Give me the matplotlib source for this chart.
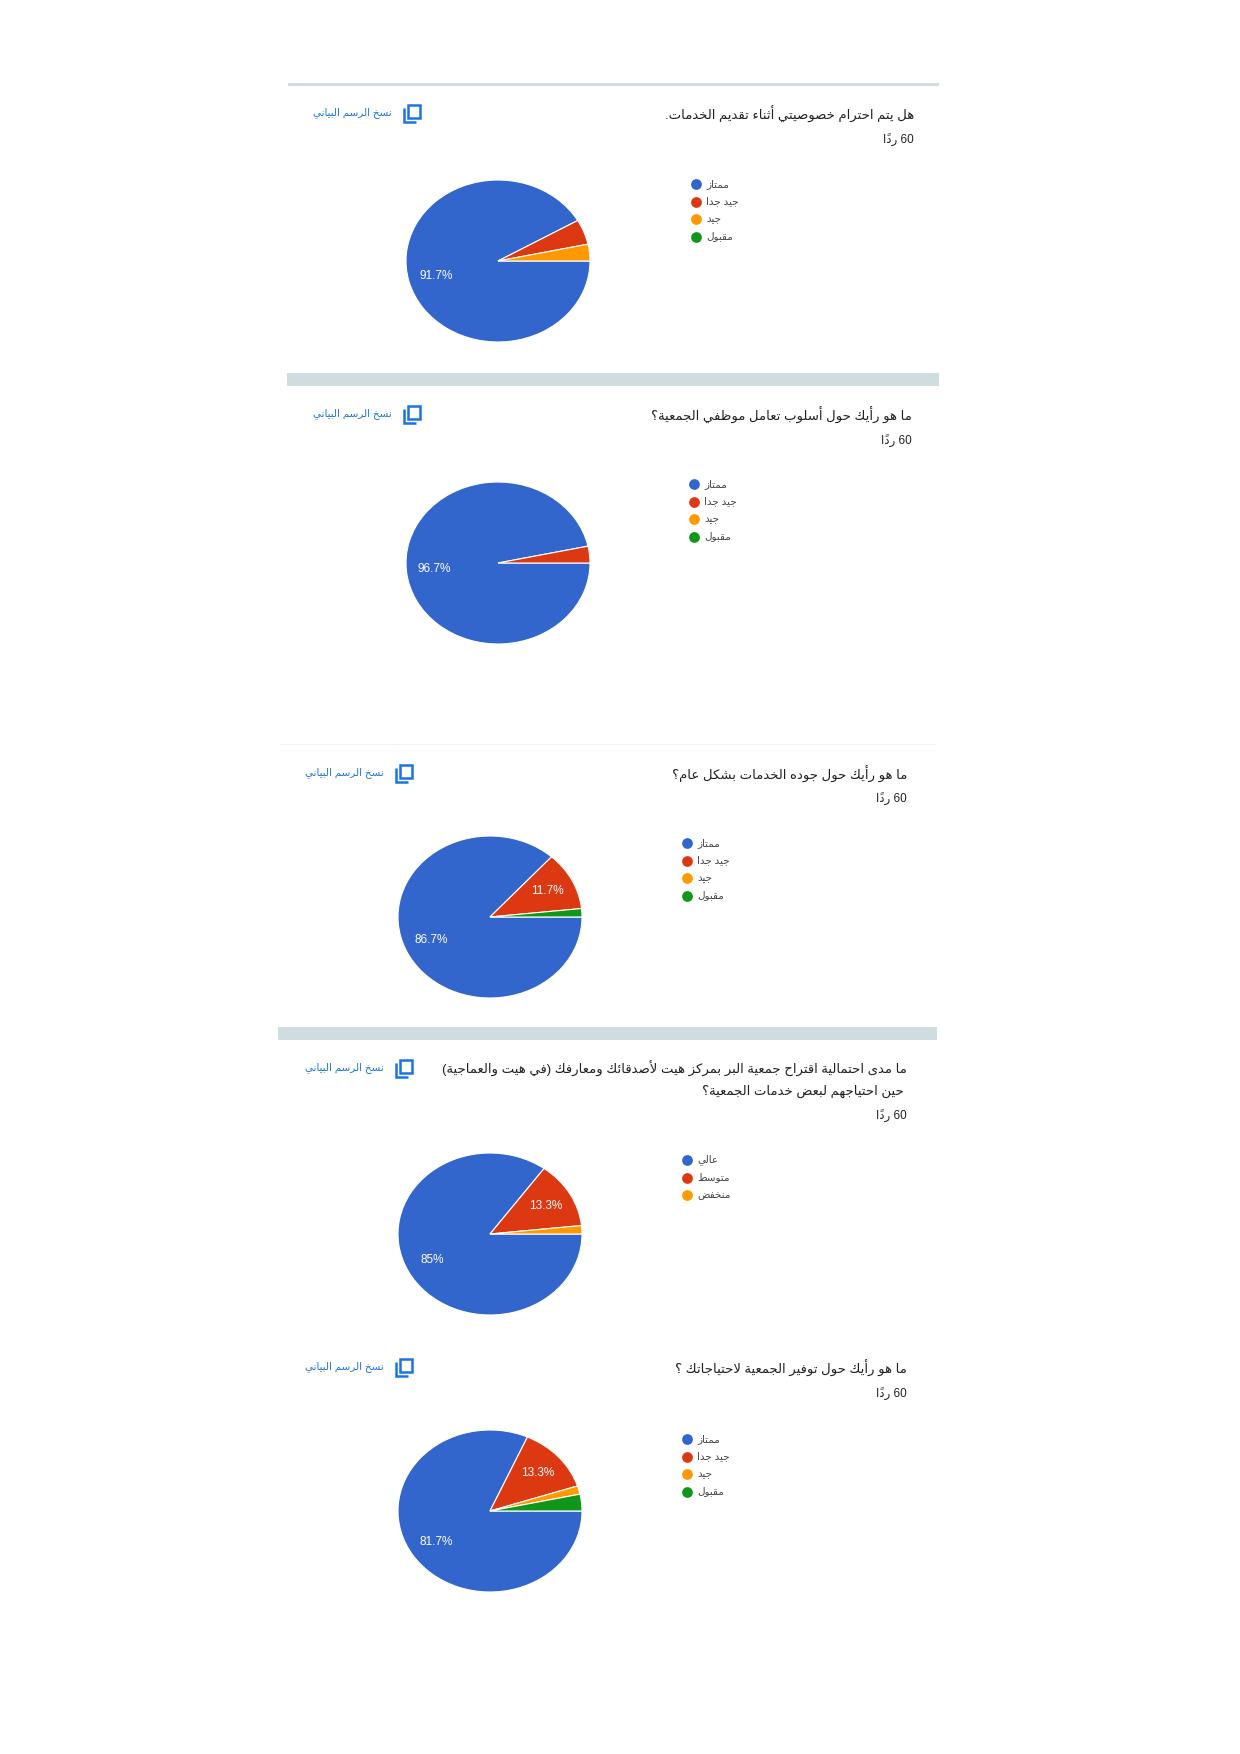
import re
import matplotlib
matplotlib.use("Agg")
import matplotlib.pyplot as plt
from matplotlib.patches import Rectangle

plt.rcParams["font.family"] = ["Liberation Sans", "DejaVu Sans"]

W, H = 1240, 1754

# ---- data -------------------------------------------------------------
questions = [
    ["هل يتم احترام خصوصيتي أثناء تقديم الخدمات."],
    ["ما هو رأيك حول أسلوب تعامل موظفي الجمعية؟"],
    ["ما هو رأيك حول جوده الخدمات بشكل عام؟"],
    ["ما مدى احتمالية اقتراح جمعية البر بمركز هيت لأصدقائك ومعارفك (في هيت والعماجية)",
     " حين احتياجهم لبعض خدمات الجمعية؟"],
    ["ما هو رأيك حول توفير الجمعية لاحتياجاتك ؟"],
]
n_responses = [60, 60, 60, 60, 60]

rating_labels = ["ممتاز", "جيد جدا", "جيد", "مقبول"]
likelihood_labels = ["عالي", "متوسط", "منخفض"]

privacy_counts = [55, 3, 2, 0]
staff_counts = [58, 2, 0, 0]
quality_counts = [52, 7, 0, 1]
recommend_counts = [51, 8, 1]
needs_counts = [49, 8, 1, 2]

slice_colors = ["#3366cc", "#dc3912", "#ff9900", "#109618"]

copy_label = "نسخ الرسم البياني"
count_word = "ردًا"

charts = [
    (privacy_counts, rating_labels),
    (staff_counts, rating_labels),
    (quality_counts, rating_labels),
    (recommend_counts, likelihood_labels),
    (needs_counts, rating_labels),
]

# ---- layout (pixels, y from top) ---------------------------------------
layout = [
    dict(right=914, title_y=114, count_y=140, icon_x=411, cx=498, cy=261, leg_x=696, leg_y=184),
    dict(right=912, title_y=415, count_y=441, icon_x=411, cx=498, cy=563, leg_x=694, leg_y=484),
    dict(right=907, title_y=774, count_y=799, icon_x=403, cx=490, cy=917, leg_x=687, leg_y=843),
    dict(right=907, title_y=1069, count_y=1116, icon_x=403, cx=490, cy=1234, leg_x=687, leg_y=1160),
    dict(right=907, title_y=1368, count_y=1394, icon_x=403, cx=490, cy=1511, leg_x=687, leg_y=1439),
]
RX, RY = 92, 81
LEG_STEP = 17.5


# ---- minimal arabic shaping / visual ordering ---------------------------
_TABLE = [
    ("\u0621", 0xFE80, 1), ("\u0622", 0xFE81, 2), ("\u0623", 0xFE83, 2), ("\u0624", 0xFE85, 2),
    ("\u0625", 0xFE87, 2), ("\u0626", 0xFE89, 4), ("\u0627", 0xFE8D, 2), ("\u0628", 0xFE8F, 4),
    ("\u0629", 0xFE93, 2), ("\u062A", 0xFE95, 4), ("\u062B", 0xFE99, 4), ("\u062C", 0xFE9D, 4),
    ("\u062D", 0xFEA1, 4), ("\u062E", 0xFEA5, 4), ("\u062F", 0xFEA9, 2), ("\u0630", 0xFEAB, 2),
    ("\u0631", 0xFEAD, 2), ("\u0632", 0xFEAF, 2), ("\u0633", 0xFEB1, 4), ("\u0634", 0xFEB5, 4),
    ("\u0635", 0xFEB9, 4), ("\u0636", 0xFEBD, 4), ("\u0637", 0xFEC1, 4), ("\u0638", 0xFEC5, 4),
    ("\u0639", 0xFEC9, 4), ("\u063A", 0xFECD, 4), ("\u0641", 0xFED1, 4), ("\u0642", 0xFED5, 4),
    ("\u0643", 0xFED9, 4), ("\u0644", 0xFEDD, 4), ("\u0645", 0xFEE1, 4), ("\u0646", 0xFEE5, 4),
    ("\u0647", 0xFEE9, 4), ("\u0648", 0xFEED, 2), ("\u0649", 0xFEEF, 2), ("\u064A", 0xFEF1, 4),
    ("\uFEF5", 0xFEF5, 2), ("\uFEF7", 0xFEF7, 2), ("\uFEF9", 0xFEF9, 2), ("\uFEFB", 0xFEFB, 2),
]
FORMS = {c: (start, n) for c, start, n in _TABLE}
LAM_ALEF = {"\u0622": "\uFEF5", "\u0623": "\uFEF7", "\u0625": "\uFEF9", "\u0627": "\uFEFB"}
MIRROR = {"(": ")", ")": "("}


def is_mark(c):
    return "\u064B" <= c <= "\u0652"


def shape(s):
    toks = []
    i = 0
    while i < len(s):
        if s[i] == "\u0644" and i + 1 < len(s) and s[i + 1] in LAM_ALEF:
            toks.append(LAM_ALEF[s[i + 1]])
            i += 2
        else:
            toks.append(s[i])
            i += 1
    out = []
    for i, c in enumerate(toks):
        if c not in FORMS:
            out.append(c)
            continue
        start, n = FORMS[c]
        j = i - 1
        while j >= 0 and is_mark(toks[j]):
            j -= 1
        k = i + 1
        while k < len(toks) and is_mark(toks[k]):
            k += 1
        joins_prev = n > 1 and j >= 0 and toks[j] in FORMS and FORMS[toks[j]][1] == 4
        joins_next = n == 4 and k < len(toks) and toks[k] in FORMS and FORMS[toks[k]][1] >= 2
        if joins_prev and joins_next:
            f = 3
        elif joins_prev:
            f = 1
        elif joins_next:
            f = 2
        else:
            f = 0
        out.append(chr(start + f))
    return "".join(out)


def ar(s):
    runs = re.findall(r"[0-9A-Za-z]+|.", shape(s), re.S)
    return "".join(MIRROR.get(r, r) for r in reversed(runs))


def pct_label(p):
    if p < 8:
        return ""
    s = f"{p:.1f}"
    if s.endswith(".0"):
        s = s[:-2]
    return s + "%"


# ---- figure ---------------------------------------------------------------
fig = plt.figure(figsize=(W / 100, H / 100), dpi=100)
bg = fig.add_axes([0, 0, 1, 1])
bg.set_xlim(0, W)
bg.set_ylim(H, 0)
bg.axis("off")

# separators
bg.add_patch(Rectangle((288, 83), 651, 2.5, color="#cfdde0", lw=0))
bg.add_patch(Rectangle((287, 373), 652, 13, color="#cfdde0", lw=0))
bg.add_patch(Rectangle((280, 744), 657, 1, color="#f1f3f3", lw=0))
bg.add_patch(Rectangle((278, 1027), 659, 13, color="#cfdde0", lw=0))

link_color = "#1a73e8"

for (counts, labels), q, n, lay in zip(charts, questions, n_responses, layout):
    # title
    for li, line in enumerate(q):
        bg.text(lay["right"], lay["title_y"] + li * 22, ar(line), ha="right", va="center",
                fontsize=9.5, color="#202124")
    bg.text(lay["right"], lay["count_y"], ar(f"{n} {count_word}"), ha="right", va="center",
            fontsize=8.5, color="#202124")

    # copy chart link + icon
    ix, iy = lay["icon_x"], lay["title_y"] - 1
    bg.add_patch(Rectangle((ix - 3.5, iy - 8.5), 12.5, 13.5, fill=False, ec=link_color, lw=1.8))
    bg.plot([ix - 7.5, ix - 7.5, ix + 5], [iy - 5, iy + 8.5, iy + 8.5], color=link_color,
            lw=1.8, solid_capstyle="butt", solid_joinstyle="miter")
    bg.text(ix - 19, iy, ar(copy_label), ha="right", va="center", fontsize=7.5,
            color=link_color)

    # legend
    for k, lab in enumerate(labels):
        y = lay["leg_y"] + k * LEG_STEP
        bg.scatter([lay["leg_x"]], [y], s=60, color=slice_colors[k], lw=0, zorder=3)
        bg.text(lay["leg_x"] + 10, y, ar(lab), ha="left", va="center", fontsize=7.5,
                color="#444444")

    # pie
    vals = [v for v in counts if v > 0]
    cols = [slice_colors[k] for k, v in enumerate(counts) if v > 0]
    m = 1.04
    cx, cy = lay["cx"], lay["cy"]
    pax = fig.add_axes([(cx - RX * m) / W, 1 - (cy + RY * m) / H, 2 * RX * m / W, 2 * RY * m / H])
    pax.pie(vals, colors=cols, startangle=0, counterclock=False, radius=1,
            autopct=pct_label, pctdistance=0.7,
            wedgeprops=dict(edgecolor="white", linewidth=0.8),
            textprops=dict(color="white", fontsize=8.5))
    pax.set_aspect("auto")
    pax.set_xlim(-m, m)
    pax.set_ylim(-m, m)
    pax.axis("off")

fig.savefig("out.png", dpi=100, facecolor="white")
